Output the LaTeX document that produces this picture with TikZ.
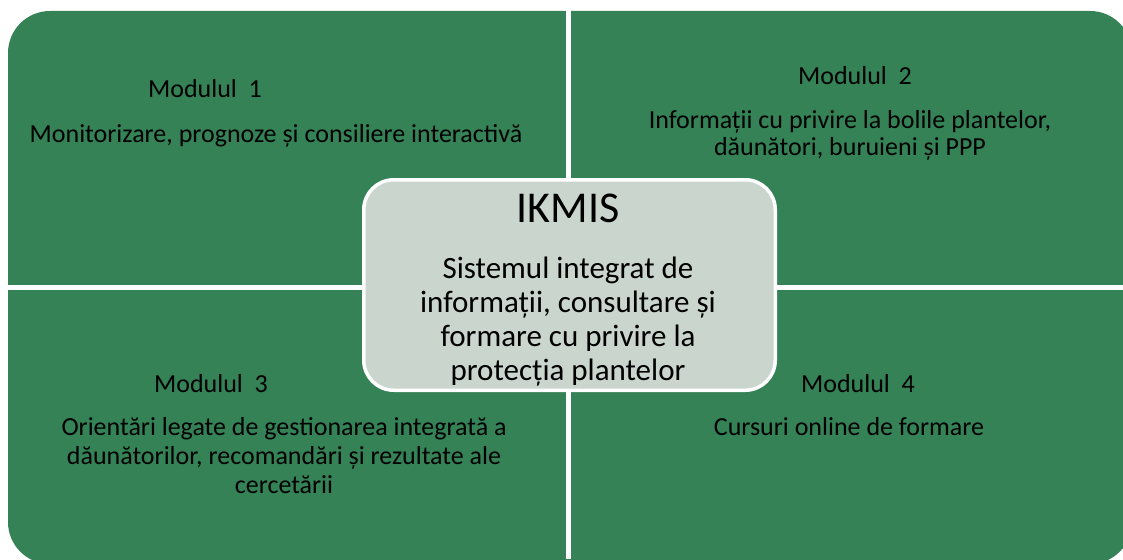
\documentclass[tikz,border=0pt]{standalone}
\usepackage{fontspec}
\setmainfont{Carlito}
\definecolor{quadgreen}{RGB}{52,130,86}
\definecolor{corefill}{RGB}{201,213,205}
\tikzset{
  quadtext/.style={anchor=base, inner sep=0pt, align=center, text=black,
    font=\fontsize{26}{28}\selectfont},
  coretext/.style={anchor=base, inner sep=0pt, align=center, text=black,
    font=\fontsize{31}{34}\selectfont},
  coretitle/.style={anchor=base, inner sep=0pt, text=black,
    font=\fontsize{44}{48}\selectfont},
  corebox/.style={draw=white, line width=3.5pt, fill=corefill,
    rounded corners=30pt, minimum width=411.5pt, minimum height=210.5pt,
    inner sep=0pt},
}
\begin{document}
\begin{tikzpicture}[x=1pt,y=-1pt]
\useasboundingbox (0,0) rectangle (1123,559);
\clip (0,0) rectangle (1123,559);
% green field with rounded outer corners
\fill[quadgreen, rounded corners=42pt] (8,11) rectangle (1132,564);
% white gaps separating the four quadrants
\fill[white] (566,0) rectangle (571,559);
\fill[white] (0,285) rectangle (1123,290);
% central box
\node[corebox] (core) at (569.5,285) {};
\node[coretitle] (ikmis) at (568,222) {IKMIS};
% anchor base of a multi-line node = baseline of its last line
\node[coretext] (coredesc) at (568,380) {Sistemul integrat de\\informații, consultare și\\formare cu privire la\\protecția plantelor};
% module 1
\node[quadtext] (m1t) at (205,98) {Modulul\ \ 1};
\node[quadtext] (m1b) at (276,142) {Monitorizare, prognoze și consiliere interactivă};
% module 2
\node[quadtext] (m2t) at (855,85) {Modulul\ \ 2};
\node[quadtext, font=\fontsize{26}{27}\selectfont] (m2b) at (850,155) {Informații cu privire la bolile plantelor,\\dăunători, buruieni și PPP};
% module 3
\node[quadtext] (m3t) at (211,392) {Modulul\ \ 3};
\node[quadtext, font=\fontsize{26}{29}\selectfont] (m3b) at (284,493) {Orientări legate de gestionarea integrată a\\dăunătorilor, recomandări și rezultate ale\\cercetării};
% module 4
\node[quadtext] (m4t) at (858,392) {Modulul\ \ 4};
\node[quadtext] (m4b) at (849,435) {Cursuri online de formare};
\end{tikzpicture}
\end{document}
